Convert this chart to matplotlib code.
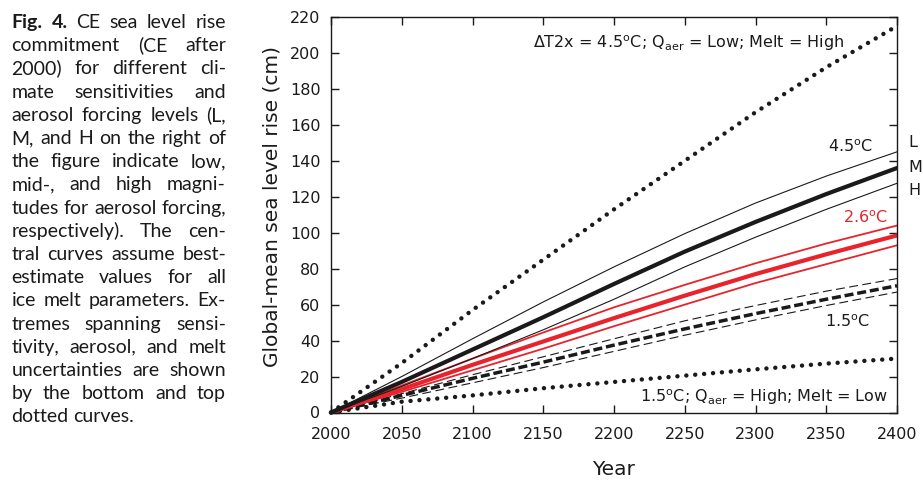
import matplotlib
matplotlib.use('Agg')
import matplotlib.pyplot as plt

# sea level rise commitment after 2000 (cm)
years = [2000, 2050, 2100, 2150, 2200, 2250, 2300, 2350, 2400]
top_dotted = [0, 27.5, 57, 85, 113, 140, 167, 192, 215]
t45_low = [0, 20, 41, 61.5, 81, 99.5, 116.5, 131.5, 145]
t45_mid = [0, 17, 35, 53, 71.5, 89.5, 106, 121.5, 136]
t45_high = [0, 14.5, 30, 46, 63, 81, 97.5, 113, 127.5]
t26_low = [0, 15, 30, 44.5, 58.5, 71, 83, 94, 104]
t26_mid = [0, 13, 26.5, 39.5, 52.5, 65, 77, 88, 98.5]
t26_high = [0, 11.5, 23.5, 35.5, 48, 60, 72, 82.5, 93]
t15_low = [0, 10.5, 21, 31, 41, 51, 59.5, 67.5, 74.5]
t15_mid = [0, 9.5, 19, 28, 37.5, 46.5, 55, 63, 70.5]
t15_high = [0, 8, 16.5, 25, 34, 43, 51.5, 59.5, 67]
bottom_dotted = [0, 6, 9.5, 13.5, 17, 20.5, 24, 27.2, 30]

x_ticks = [2000, 2050, 2100, 2150, 2200, 2250, 2300, 2350, 2400]
y_ticks = list(range(0, 221, 20))

caption_lines = [
    "Fig. 4. CE sea level rise",
    "commitment (CE after",
    "2000) for different cli-",
    "mate sensitivities and",
    "aerosol forcing levels (L,",
    "M, and H on the right of",
    "the figure indicate low,",
    "mid-, and high magni-",
    "tudes for aerosol forcing,",
    "respectively). The cen-",
    "tral curves assume best-",
    "estimate values for all",
    "ice melt parameters. Ex-",
    "tremes spanning sensi-",
    "tivity, aerosol, and melt",
    "uncertainties are shown",
    "by the bottom and top",
    "dotted curves.",
]

RED = '#e8232b'
INK = '#1a1a1a'
W, H = 923, 480

plt.rcParams['font.family'] = ['DejaVu Sans']
plt.rcParams['mathtext.fontset'] = 'dejavusans'

fig = plt.figure(figsize=(W / 100, H / 100), dpi=100)
ax = fig.add_axes([331 / W, 1 - 412.5 / H, 566 / W, 395.5 / H])

dots = dict(color=INK, lw=3.2, linestyle=(0, (0.01, 2.0)), dash_capstyle='round', clip_on=False)
ax.plot(years, top_dotted, **dots)
ax.plot(years, bottom_dotted, **dots)

ax.plot(years, t15_low, color=INK, lw=0.8, linestyle=(0, (8, 4)))
ax.plot(years, t15_high, color=INK, lw=0.8, linestyle=(0, (8, 4)))
ax.plot(years, t15_mid, color=INK, lw=2.5, linestyle=(0, (2.6, 1.1)))

ax.plot(years, t26_low, color=RED, lw=1.3)
ax.plot(years, t26_high, color=RED, lw=1.3)
ax.plot(years, t26_mid, color=RED, lw=3.0)

ax.plot(years, t45_low, color=INK, lw=0.8)
ax.plot(years, t45_high, color=INK, lw=0.8)
ax.plot(years, t45_mid, color=INK, lw=3.0)

ax.set_xlim(2000, 2400)
ax.set_ylim(0, 220)
ax.set_xticks(x_ticks)
ax.set_yticks(y_ticks)
ax.tick_params(direction='in', length=5.8, width=1, top=True, right=True,
               labelsize=11.5, colors=INK)
ax.tick_params(axis='x', pad=10.5)
ax.tick_params(axis='y', pad=7.5)
for s in ax.spines.values():
    s.set_linewidth(1)
    s.set_color(INK)

ax.set_xlabel('Year', fontsize=14.5, color=INK)
ax.set_ylabel('Global-mean sea level rise (cm)', fontsize=14.5, color=INK)
ax.xaxis.set_label_coords(0.5, -0.12)
ax.yaxis.set_label_coords(-0.087, 0.52)

note = dict(fontsize=11.5, color=INK, va='baseline')
ax.text(2363, 202.5, r'$\Delta$T2x = 4.5$^{\mathrm{o}}$C; Q$_{\mathrm{aer}}$ = Low; Melt = High', ha='right', **note)
ax.text(2383, 145, r'4.5$^{\mathrm{o}}$C', ha='right', **note)
ax.text(2393.5, 105.4, r'2.6$^{\mathrm{o}}$C', ha='right', fontsize=11.5, color=RED, va='baseline')
ax.text(2381, 47.7, r'1.5$^{\mathrm{o}}$C', ha='right', **note)
ax.text(2393.5, 6, r'1.5$^{\mathrm{o}}$C; Q$_{\mathrm{aer}}$ = High; Melt = Low', ha='right', **note)
for lab, yv in zip(['L', 'M', 'H'], [147.6, 133.8, 120.8]):
    ax.text(2408, yv, lab, ha='left', clip_on=False, **note)

# justified caption on the left, one word at a time
renderer = fig.canvas.get_renderer()
cap_left, cap_right = 11.5, 226.0
base0, step = 28.0, 23.2
cap_font = ['Lato', 'DejaVu Sans']


def make_words(size):
    rows = []
    for i, line in enumerate(caption_lines):
        row = []
        for j, w in enumerate(line.split()):
            bold = i == 0 and j < 2
            t = fig.text(0, 0, w, fontsize=size, family=cap_font, color=INK,
                         fontweight='bold' if bold else 'normal', va='baseline', ha='left')
            row.append((t, t.get_window_extent(renderer).width))
        rows.append(row)
    return rows


size = 14.0
rows = make_words(size)
min_gap = size * 100 / 72 * 0.2
scale = 1.0
for row in rows[:-1]:
    total = sum(w for _, w in row) + min_gap * (len(row) - 1)
    scale = min(scale, (cap_right - cap_left) / total)
if scale < 1.0:
    for row in rows:
        for t, _ in row:
            t.remove()
    size *= scale
    rows = make_words(size)

space = size * 100 / 72 * 0.25
for i, row in enumerate(rows):
    widths = [w for _, w in row]
    if i == len(rows) - 1 or len(row) == 1:
        gap = space
    else:
        gap = (cap_right - cap_left - sum(widths)) / (len(row) - 1)
    x = cap_left
    y = base0 + step * i
    for t, w in row:
        t.set_position((x / W, 1 - y / H))
        x += w + gap

fig.savefig('out.png', dpi=100)
